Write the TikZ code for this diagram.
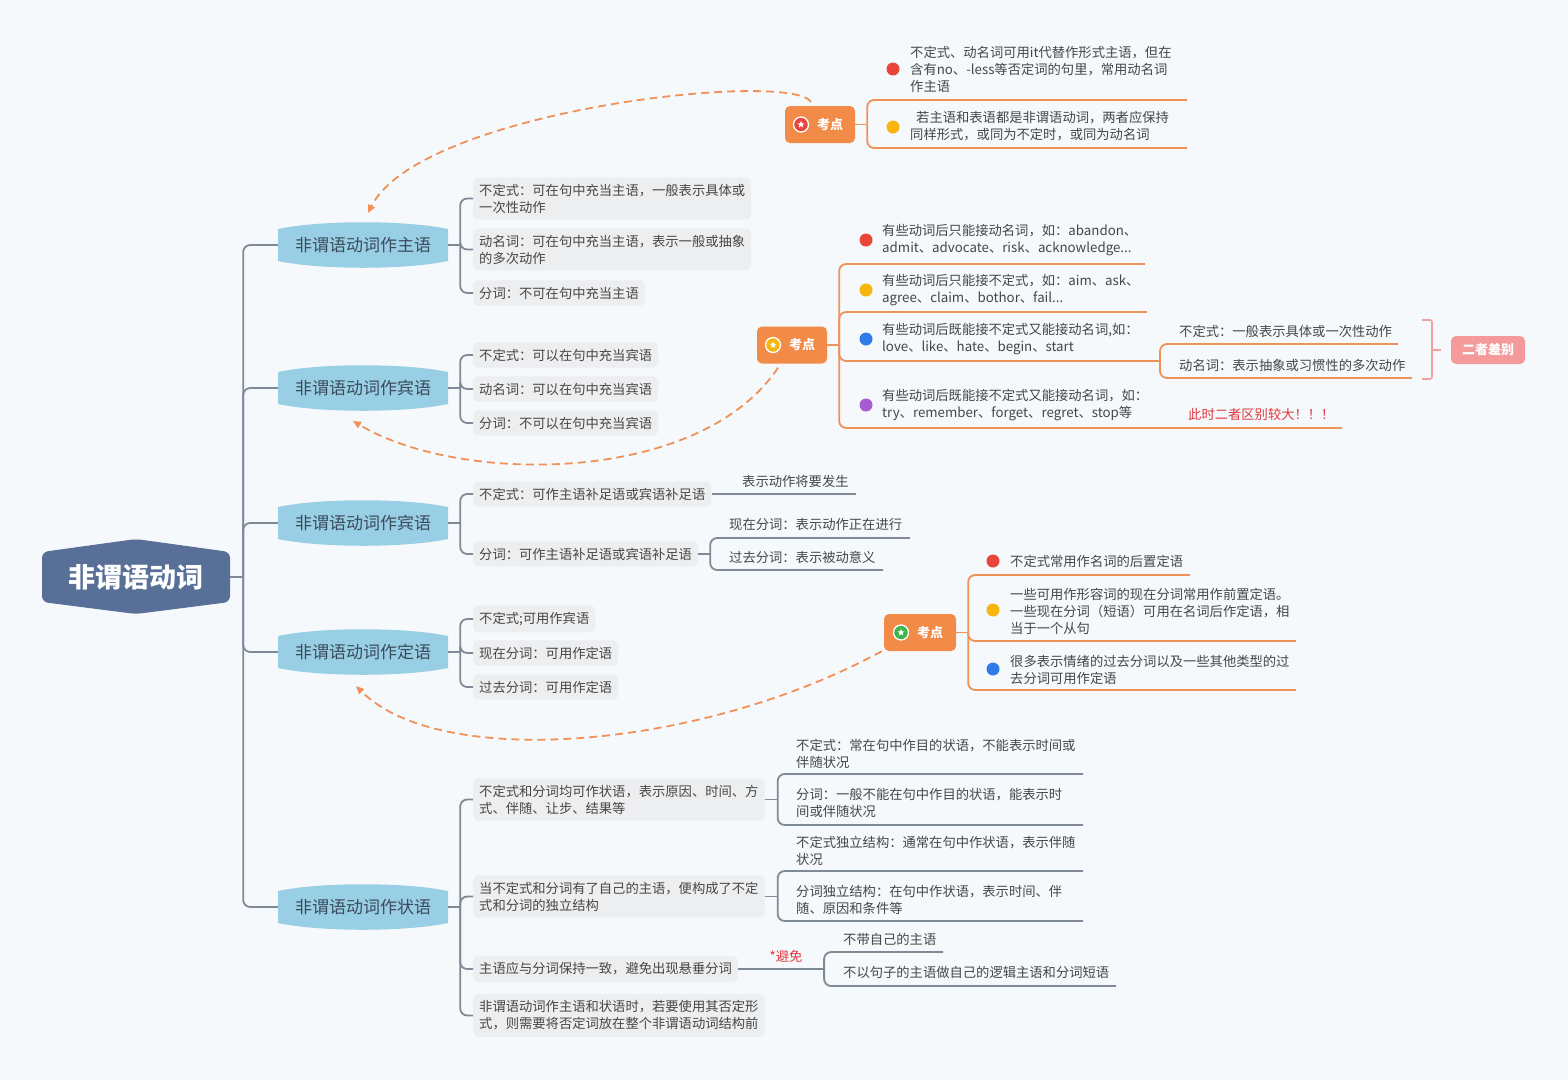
\documentclass[tikz,border=0pt]{standalone}
\usepackage{fontspec}
\setmainfont{Noto Sans CJK SC}
\usetikzlibrary{arrows.meta,shapes.geometric,calc}
\definecolor{bgcol}{RGB}{245,249,252}
\definecolor{rootfill}{RGB}{88,111,151}
\definecolor{subfill}{RGB}{152,207,229}
\definecolor{subtext}{RGB}{60,74,92}
\definecolor{leaffill}{RGB}{237,238,240}
\definecolor{leaftext}{RGB}{70,70,70}
\definecolor{greyline}{RGB}{128,137,150}
\definecolor{orangefill}{RGB}{242,139,72}
\definecolor{orangeline}{RGB}{239,145,88}
\definecolor{pinkfill}{RGB}{244,154,154}
\definecolor{pinkline}{RGB}{242,161,161}
\definecolor{dred}{RGB}{233,70,59}
\definecolor{dyellow}{RGB}{248,181,14}
\definecolor{dblue}{RGB}{47,124,232}
\definecolor{dpurple}{RGB}{166,91,211}
\definecolor{dgreen}{RGB}{61,181,74}
\definecolor{redtext}{RGB}{224,56,62}
\newcommand\leaffont{\fontsize{13.3}{17}\selectfont}
\newcommand\subfont{\fontsize{17}{20}\selectfont}
\newcommand\rootfont{\fontsize{27}{30}\selectfont\bfseries}
\newcommand\calloutfont{\fontsize{13}{15}\selectfont\bfseries}
\newcommand\subshape[1]{\fill[subfill] (278,#1-16) .. controls (320,#1-25) and (406,#1-25) .. (448,#1-16) -- (448,#1+16) .. controls (406,#1+25) and (320,#1+25) .. (278,#1+16) -- cycle;}
\newcommand\gbranch[3][12]{\draw[gconn] (#2) -- ++(#1,0); \draw[gconn] ($(#2)+(#1,0)$) |- (#3);}
\newcommand\obranch[3][12]{\draw[oconn] (#2) -- ++(#1,0); \draw[oconn] ($(#2)+(#1,0)$) |- (#3);}
\newcommand\kicon[3]{\fill[#2, draw=white, line width=1.3pt] (#1) circle (7.5pt);
  \node[star, star points=5, star point ratio=2.4, fill=white, inner sep=0pt, minimum size=7.5pt] (#3) at (#1) {};}
\tikzset{
  leaf/.style={fill=leaffill, rounded corners=5pt, inner xsep=6pt, inner ysep=6.5pt, anchor=west, align=left, text=leaftext, font=\leaffont},
  txt/.style={inner sep=0pt, anchor=west, align=left, text=leaftext, font=\leaffont},
  subtopic/.style={minimum width=170pt, minimum height=44pt, inner sep=0pt, text=subtext, font=\subfont},
  rootnode/.style={minimum width=188pt, minimum height=50pt, inner sep=0pt, text=white, font=\rootfont},
  gconn/.style={draw=greyline, line width=1.8pt, rounded corners=7pt},
  oconn/.style={draw=orangeline, line width=1.8pt, rounded corners=7pt},
  callout/.style={fill=orangefill, rounded corners=5pt, minimum width=70pt, minimum height=37pt, inner sep=0pt, text=white, font=\calloutfont},
  dotnode/.style={circle, inner sep=0pt, minimum size=13pt},
  darrow/.style={draw=orangeline, line width=1.8pt, dash pattern=on 8pt off 5pt, -{Triangle[length=8pt,width=7pt]}},
}
\begin{document}
\begin{tikzpicture}[x=1pt,y=-1pt]
\fill[bgcol] (0,0) rectangle (1568,1080);
\useasboundingbox (0,0) rectangle (1568,1080);

% root
\fill[rootfill, rounded corners=6pt] (42,552) -- (136,539) -- (230,552) -- (230,602) -- (136,614) -- (42,602) -- cycle;
\node[rootnode] (root) at (136,577) {非谓语动词};

% subtopics
\subshape{245}\node[subtopic] (s1) at (363,245) {非谓语动词作主语};
\subshape{388}\node[subtopic] (s2) at (363,388) {非谓语动词作宾语};
\subshape{523}\node[subtopic] (s3) at (363,523) {非谓语动词作宾语};
\subshape{652}\node[subtopic] (s4) at (363,652) {非谓语动词作定语};
\subshape{907}\node[subtopic] (s5) at (363,907) {非谓语动词作状语};

\gbranch[13]{root.east}{s1.west}
\gbranch[13]{root.east}{s2.west}
\gbranch[13]{root.east}{s3.west}
\gbranch[13]{root.east}{s4.west}
\gbranch[13]{root.east}{s5.west}

% subtopic 1
\node[leaf] (L11) at (473,198.5) {不定式：可在句中充当主语，一般表示具体或\\一次性动作};
\node[leaf] (L12) at (473,249.5) {动名词：可在句中充当主语，表示一般或抽象\\的多次动作};
\node[leaf] (L13) at (473,293) {分词：不可在句中充当主语};
\gbranch{s1.east}{L11.west}
\gbranch{s1.east}{L12.west}
\gbranch{s1.east}{L13.west}

% subtopic 2
\node[leaf] (L21) at (473,355) {不定式：可以在句中充当宾语};
\node[leaf] (L22) at (473,389) {动名词：可以在句中充当宾语};
\node[leaf] (L23) at (473,423) {分词：不可以在句中充当宾语};
\gbranch{s2.east}{L21.west}
\gbranch{s2.east}{L22.west}
\gbranch{s2.east}{L23.west}

% subtopic 3
\node[leaf] (L31) at (473,494) {不定式：可作主语补足语或宾语补足语};
\node[leaf] (L32) at (473,554) {分词：可作主语补足语或宾语补足语};
\gbranch{s3.east}{L31.west}
\gbranch{s3.east}{L32.west}
\node[txt] (T311) at (742,481) {表示动作将要发生};
\coordinate (e311) at (856,494);
\draw[gconn] (L31.east) -- (e311);
\node[txt] (T321) at (729,524) {现在分词：表示动作正在进行};
\coordinate (e321) at (910,538);
\node[txt] (T322) at (729,557) {过去分词：表示被动意义};
\coordinate (e322) at (883,570);
\gbranch{L32.east}{e321}
\gbranch{L32.east}{e322}

% subtopic 4
\node[leaf] (L41) at (473,619) {不定式;可用作宾语};
\node[leaf] (L42) at (473,653) {现在分词：可用作定语};
\node[leaf] (L43) at (473,687) {过去分词：可用作定语};
\gbranch{s4.east}{L41.west}
\gbranch{s4.east}{L42.west}
\gbranch{s4.east}{L43.west}

% subtopic 5
\node[leaf] (L51) at (473,799.5) {不定式和分词均可作状语，表示原因、时间、方\\式、伴随、让步、结果等};
\node[leaf] (L52) at (473,896.5) {当不定式和分词有了自己的主语，便构成了不定\\式和分词的独立结构};
\node[leaf] (L53) at (473,969) {主语应与分词保持一致，避免出现悬垂分词};
\node[leaf] (L54) at (473,1015.5) {非谓语动词作主语和状语时，若要使用其否定形\\式，则需要将否定词放在整个非谓语动词结构前};
\gbranch{s5.east}{L51.west}
\gbranch{s5.east}{L52.west}
\gbranch{s5.east}{L53.west}
\gbranch{s5.east}{L54.west}

\node[txt] (T511) at (796,753.5) {不定式：常在句中作目的状语，不能表示时间或\\伴随状况};
\coordinate (e511) at (1083,774);
\node[txt] (T512) at (796,802.5) {分词：一般不能在句中作目的状语，能表示时\\间或伴随状况};
\coordinate (e512) at (1083,825);
\gbranch[13]{L51.east}{e511}
\gbranch[13]{L51.east}{e512}

\node[txt] (T521) at (796,850.5) {不定式独立结构：通常在句中作状语，表示伴随\\状况};
\coordinate (e521) at (1083,871);
\node[txt] (T522) at (796,899.5) {分词独立结构：在句中作状语，表示时间、伴\\随、原因和条件等};
\coordinate (e522) at (1083,921);
\gbranch[13]{L52.east}{e521}
\gbranch[13]{L52.east}{e522}

\node[txt, anchor=center, text=redtext] (avoid) at (786,956) {*避免};
\node[txt] (T531) at (843,939) {不带自己的主语};
\coordinate (e531) at (943,952);
\node[txt] (T532) at (843,972) {不以句子的主语做自己的逻辑主语和分词短语};
\coordinate (e532) at (1116,986);
\gbranch[86]{L53.east}{e531}
\gbranch[86]{L53.east}{e532}

% callout 1
\node[callout] (k1) at (820,124.5) {\hspace*{20pt}考点};
\kicon{801,124.5}{dred}{k1star}
\node[dotnode, fill=dred] (d11) at (893,69) {};
\node[txt] (K11) at (910,69) {不定式、动名词可用it代替作形式主语，但在\\含有no、-less等否定词的句里，常用动名词\\作主语};
\coordinate (e11) at (1187,100);
\node[dotnode, fill=dyellow] (d12) at (893,127) {};
\node[txt] (K12) at (910,126.5) {\hspace*{6pt}若主语和表语都是非谓语动词，两者应保持\\同样形式，或同为不定时，或同为动名词};
\coordinate (e12) at (1187,148);
\obranch{k1.east}{e11}
\obranch{k1.east}{e12}

% callout 2
\node[callout] (k2) at (792,345) {\hspace*{20pt}考点};
\kicon{773,345}{dyellow}{k2star}
\node[dotnode, fill=dred] (d21) at (866,240) {};
\node[txt] (K21) at (882,240.5) {有些动词后只能接动名词，如：abandon、\\admit、advocate、risk、acknowledge...};
\coordinate (e21) at (1145,264);
\node[dotnode, fill=dyellow] (d22) at (866,290) {};
\node[txt] (K22) at (882,290.5) {有些动词后只能接不定式，如：aim、ask、\\agree、claim、bothor、fail...};
\coordinate (e22) at (1147,312);
\node[dotnode, fill=dblue] (d23) at (866,339) {};
\node[txt] (K23) at (882,339.5) {有些动词后既能接不定式又能接动名词,如：\\love、like、hate、begin、start};
\coordinate (j23) at (1160,361);
\node[dotnode, fill=dpurple] (d24) at (866,405) {};
\node[txt] (K24) at (882,405.5) {有些动词后既能接不定式又能接动名词，如：\\try、remember、forget、regret、stop等};
\coordinate (e24) at (1342,428);
\obranch{k2.east}{e21}
\obranch{k2.east}{e22}
\obranch{k2.east}{j23}
\obranch{k2.east}{e24}
\node[txt] (K231) at (1179,331) {不定式：一般表示具体或一次性动作};
\coordinate (e231) at (1398,344);
\node[txt] (K232) at (1179,365) {动名词：表示抽象或习惯性的多次动作};
\coordinate (e232) at (1412,378);
\draw[oconn] (j23) |- (e231);
\draw[oconn] (j23) |- (e232);
\node[txt, text=redtext] (K241) at (1188,414) {此时二者区别较大！！！};
% summary
\draw[pinkline, line width=1.6pt, rounded corners=2pt] (1422,320) -- (1432,320) -- (1432,379) -- (1422,379);
\node[callout, fill=pinkfill, minimum width=74pt, minimum height=28pt] (diff) at (1488,350) {二者差别};
\coordinate (bmid) at (1432,350);
\coordinate (bend) at (1441,350);
\draw[pinkline, line width=1.6pt] (bmid) -- (bend);

% callout 3
\node[callout, minimum width=72pt] (k3) at (920,632.5) {\hspace*{20pt}考点};
\kicon{901,632.5}{dgreen}{k3star}
\node[dotnode, fill=dred] (d31) at (993,561) {};
\node[txt] (K31) at (1010,561) {不定式常用作名词的后置定语};
\coordinate (e31) at (1190,575);
\node[dotnode, fill=dyellow] (d32) at (993,610) {};
\node[txt] (K32) at (1010,611) {一些可用作形容词的现在分词常用作前置定语。\\一些现在分词（短语）可用在名词后作定语，相\\当于一个从句};
\coordinate (e32) at (1296,641);
\node[dotnode, fill=dblue] (d33) at (993,669) {};
\node[txt] (K33) at (1010,669.5) {很多表示情绪的过去分词以及一些其他类型的过\\去分词可用作定语};
\coordinate (e33) at (1296,690);
\obranch{k3.east}{e31}
\obranch{k3.east}{e32}
\obranch{k3.east}{e33}

% dashed relation arrows
\coordinate (t1) at (368,213);
\draw[darrow] ($(k1.north)+(-9,-4)$) .. controls (790,70) and (420,110) .. (t1);
\coordinate (t2) at (353,421);
\draw[darrow] ($(k2.south)+(-14,4)$) .. controls (700,485) and (460,485) .. (t2);
\coordinate (t3) at (356,686);
\draw[darrow] ($(k3.south west)+(-2,0)$) .. controls (700,750) and (440,770) .. (t3);
\end{tikzpicture}
\end{document}
